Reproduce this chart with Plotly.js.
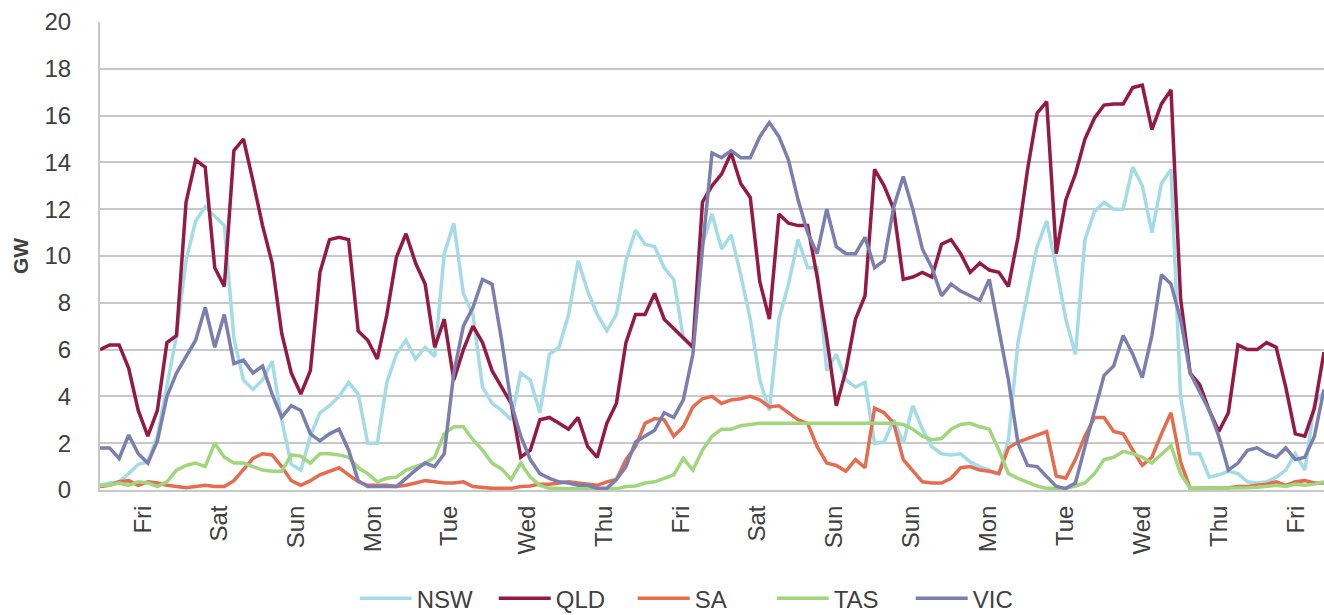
<!DOCTYPE html>
<html>
<head>
<meta charset="utf-8">
<script src="https://cdn.plot.ly/plotly-3.0.1.min.js"></script>
<style>html,body{margin:0;padding:0;background:#fff;}#chart{width:1324px;height:615px;}</style>
</head>
<body>
<div id="chart"></div>
<script>
// Time base: one reading every 3 hours over 16 days (hours since start)
const stepHours = 3;

const dayLabels = ["Fri","Sat","Sun","Mon","Tue","Wed","Thu","Fri","Sat","Sun","Sun","Mon","Tue","Wed","Thu","Fri"];
const dayTickHours = [13.5,37.3,61.5,85.6,109.5,134.0,158.1,182.3,206.1,230.3,254.4,278.6,302.7,326.9,351.1,375.2];

const NSW = [0.2,0.3,0.35,0.7,1.1,1.2,2.3,4.4,6.6,9.8,11.5,12.1,11.7,11.3,6.5,4.7,4.3,4.7,5.5,3.0,1.1,0.85,
  2.3,3.3,3.6,4.0,4.6,4.1,2.0,2.0,4.6,5.8,6.4,5.6,6.1,5.7,10.1,11.4,8.4,7.5,4.4,3.7,3.4,
  3.0,5.0,4.7,3.3,5.8,6.1,7.5,9.8,8.5,7.5,6.8,7.5,9.8,11.1,10.5,10.4,9.5,9.0,6.5,6.1,10.5,
  11.8,10.3,10.9,9.2,7.3,4.7,3.4,7.3,8.8,10.7,9.5,9.5,5.1,5.8,4.7,4.4,4.6,2.0,2.05,3.0,2.0,
  3.6,2.6,1.85,1.55,1.5,1.55,1.2,1.0,0.85,0.7,2.15,6.3,8.4,10.4,11.5,9.5,7.3,5.8,10.7,11.9,12.3,
  12.0,12.0,13.8,13.0,11.0,13.1,13.7,4.0,1.55,1.55,0.55,0.65,0.8,0.7,0.35,0.3,0.35,0.55,0.85,1.55,0.85,3.7,4.2];

const QLD = [6.0,6.2,6.2,5.2,3.4,2.3,3.4,6.3,6.6,12.3,14.1,13.8,9.5,8.7,14.5,15.0,13.2,11.3,9.7,6.7,5.0,4.1,
  5.1,9.3,10.7,10.8,10.7,6.8,6.4,5.6,7.5,9.95,10.95,9.7,8.8,6.1,7.3,4.7,6.0,7.0,6.3,5.1,4.4,
  3.7,1.4,1.7,3.0,3.1,2.85,2.6,3.1,1.85,1.4,2.85,3.7,6.3,7.5,7.5,8.4,7.3,6.9,6.5,6.1,12.3,
  13.0,13.5,14.4,13.1,12.5,8.9,7.3,11.8,11.4,11.3,11.3,9.1,6.5,3.6,5.1,7.3,8.3,13.7,13.0,12.0,9.0,
  9.1,9.3,9.1,10.5,10.7,10.1,9.3,9.7,9.4,9.3,8.7,10.8,13.7,16.1,16.6,10.1,12.4,13.5,15.0,15.9,16.45,
  16.5,16.5,17.2,17.3,15.4,16.5,17.1,8.2,5.0,4.5,3.4,2.5,3.3,6.2,6.0,6.0,6.3,6.1,4.4,2.4,2.3,3.5,5.9];

const SA = [0.15,0.2,0.35,0.4,0.2,0.35,0.3,0.2,0.15,0.1,0.15,0.2,0.15,0.15,0.4,0.85,1.35,1.55,1.5,1.0,0.4,0.2,
  0.4,0.65,0.8,0.95,0.65,0.35,0.2,0.2,0.2,0.15,0.2,0.3,0.4,0.35,0.3,0.3,0.35,0.15,0.1,0.07,0.07,
  0.07,0.15,0.17,0.25,0.25,0.3,0.35,0.3,0.25,0.2,0.35,0.45,1.3,1.85,2.85,3.05,3.0,2.3,2.7,3.55,3.9,
  4.0,3.7,3.85,3.9,4.0,3.85,3.55,3.6,3.3,3.0,2.85,1.85,1.15,1.05,0.8,1.3,0.95,3.5,3.3,2.85,1.3,
  0.8,0.35,0.3,0.3,0.5,0.95,1.0,0.85,0.8,0.7,1.8,2.05,2.2,2.35,2.5,0.6,0.5,1.3,2.3,3.1,3.1,
  2.5,2.4,1.7,1.05,1.4,2.4,3.3,1.2,0.07,0.07,0.07,0.1,0.1,0.15,0.15,0.2,0.25,0.35,0.2,0.35,0.4,0.3,0.3];

const TAS = [0.2,0.2,0.3,0.2,0.35,0.3,0.15,0.35,0.85,1.05,1.15,1.0,2.0,1.4,1.15,1.15,1.0,0.85,0.8,0.8,1.5,1.45,
  1.15,1.55,1.55,1.5,1.4,0.95,0.7,0.35,0.5,0.55,0.85,1.0,1.15,1.4,2.4,2.7,2.7,2.15,1.7,1.15,0.9,
  0.45,1.15,0.55,0.2,0.07,0.05,0.05,0.05,0.05,0.05,0.05,0.05,0.15,0.17,0.3,0.35,0.5,0.65,1.35,0.85,1.7,
  2.3,2.6,2.6,2.75,2.8,2.85,2.85,2.85,2.85,2.85,2.85,2.85,2.85,2.85,2.85,2.85,2.85,2.85,2.85,2.85,2.8,
  2.6,2.3,2.15,2.2,2.6,2.8,2.85,2.7,2.6,1.7,0.7,0.5,0.35,0.17,0.07,0.07,0.07,0.17,0.3,0.7,1.3,
  1.4,1.65,1.55,1.4,1.15,1.55,1.9,0.7,0.07,0.07,0.07,0.07,0.1,0.1,0.1,0.12,0.15,0.2,0.15,0.25,0.2,0.25,0.35];

const VIC = [1.8,1.8,1.35,2.35,1.55,1.15,2.1,4.0,5.0,5.7,6.4,7.8,6.1,7.5,5.4,5.55,5.0,5.3,4.1,3.1,3.6,3.4,
  2.4,2.1,2.4,2.6,1.7,0.4,0.15,0.15,0.15,0.15,0.5,0.85,1.15,1.0,1.55,5.0,7.0,7.8,9.0,8.8,6.4,
  3.7,2.3,1.3,0.7,0.5,0.35,0.3,0.2,0.2,0.07,0.07,0.45,1.0,2.05,2.3,2.55,3.3,3.1,3.85,5.8,10.3,
  14.4,14.2,14.5,14.2,14.2,15.1,15.7,15.1,14.1,12.4,11.0,10.1,12.0,10.4,10.1,10.1,10.8,9.5,9.8,12.1,13.4,
  12.0,10.3,9.5,8.3,8.8,8.5,8.3,8.1,9.0,6.8,4.7,2.0,1.05,1.0,0.55,0.15,0.07,0.3,1.85,3.4,4.9,
  5.3,6.6,5.8,4.8,6.6,9.2,8.8,7.3,5.0,4.2,3.4,2.3,0.85,1.15,1.7,1.8,1.55,1.4,1.8,1.3,1.4,2.3,4.3];

const seriesNames = ["NSW","QLD","SA","TAS","VIC"];
const seriesData = [NSW, QLD, SA, TAS, VIC];
const seriesColors = ["#a4dbe8","#951a42","#e66c50","#a0d77d","#7b7fb0"];

const hours = NSW.map((_, i) => i * stepHours);

const traces = seriesNames.map((name, i) => ({
  type: "scatter",
  mode: "lines",
  name: name,
  x: hours,
  y: seriesData[i],
  line: {color: seriesColors[i], width: 3.5}
}));

const font = "'Liberation Sans', Arial, sans-serif";
const layout = {
  width: 1324, height: 615,
  margin: {l: 100, r: 0, t: 22, b: 125, pad: 0, autoexpand: false},
  paper_bgcolor: "#ffffff", plot_bgcolor: "#ffffff",
  font: {family: font, color: "#404040", size: 24},
  showlegend: true,
  legend: {
    orientation: "h", x: 0.492, xanchor: "center", y: -0.232, yanchor: "middle",
    font: {family: font, size: 24, color: "#404040"},
    itemwidth: 52, entrywidth: 72, entrywidthmode: "pixels", traceorder: "normal"
  },
  xaxis: {
    range: [0, 384], showgrid: false, zeroline: false, automargin: false,
    showline: true, linecolor: "#c8c8c8", linewidth: 2,
    tickmode: "array", tickvals: dayTickHours, ticktext: dayLabels,
    tickangle: -90, ticks: "", ticklabelstandoff: 4,
    tickfont: {family: font, size: 24, color: "#404040"}
  },
  yaxis: {
    range: [0, 20], dtick: 2, tick0: 0, automargin: false,
    showgrid: true, gridcolor: "#c8c8c8", gridwidth: 2,
    zeroline: false, showline: true, linecolor: "#c8c8c8", linewidth: 2,
    ticks: "", ticklabelstandoff: 22,
    tickfont: {family: font, size: 24, color: "#404040"},
    title: {text: "<b>GW</b>", font: {family: font, size: 21, color: "#404040"}, standoff: 10}
  }
};

Plotly.newPlot("chart", traces, layout, {displayModeBar: false, staticPlot: true});
</script>
</body>
</html>
